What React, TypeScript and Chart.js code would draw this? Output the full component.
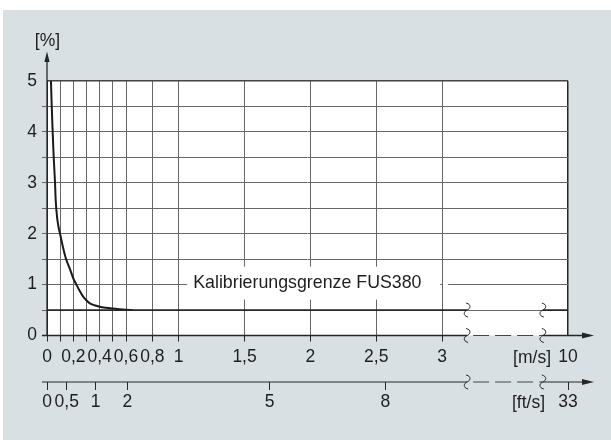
import React, { useEffect, useRef } from "react";
import { Chart, registerables } from "chart.js";

Chart.register(...registerables);

// ---- data ----
const curveSpeed = [0.03, 0.036, 0.043, 0.051, 0.061, 0.066, 0.08, 0.099, 0.12, 0.145, 0.175, 0.2, 0.225, 0.25, 0.276, 0.3, 0.326, 0.36, 0.4, 0.45, 0.5, 0.55, 0.6, 0.65];
const curveError = [5, 4.5, 4, 3.5, 3, 2.66, 2.25, 2, 1.75, 1.5, 1.3, 1.12, 0.99, 0.87, 0.76, 0.69, 0.63, 0.595, 0.566, 0.545, 0.53, 0.515, 0.505, 0.5];
const limitError = 0.5;
const limitLabel = "Kalibrierungsgrenze FUS380";

const msTickValues = [0, 0.1, 0.2, 0.3, 0.4, 0.5, 0.6, 0.8, 1, 1.5, 2, 2.5, 3, 10];
const msTickLabels = ["0", "", "0,2", "", "0,4", "", "0,6", "0,8", "1", "1,5", "2", "2,5", "3", "10"];
const ftTickAtMs = [0, 0.15, 0.37, 0.61, 1.69, 2.57, 10];
const ftTickLabels = ["0", "0,5", "1", "2", "5", "8", "33"];
const yMax = 5;
const yStep = 0.5;
const yUnit = "[%]";
const msUnit = "[m/s]";
const ftUnit = "[ft/s]";

// axis break (scale units): linear 0..3 m/s, then a break, end of axis = 10 m/s
const BREAK_FROM = 3.19;
const BREAK_TO = 3.765;
const AXIS_END_POS = 3.956;
const AXIS_END_VALUE = 10;
const toPos = (v: number) => (v >= AXIS_END_VALUE ? AXIS_END_POS : v);

const FONT = "'Liberation Sans', Arial, Helvetica, sans-serif";
const FS = 17.5;
const TEXT = "#1e1e1e";
const GRID = "#666";
const DARK = "#262626";
const BG = "#d9e0e3";
const CLEAR = "rgba(0,0,0,0)";

function squiggle(ctx: CanvasRenderingContext2D, x: number, y: number) {
  ctx.save();
  ctx.strokeStyle = DARK;
  ctx.lineWidth = 1;
  ctx.beginPath();
  ctx.moveTo(x - 1, y - 7);
  ctx.bezierCurveTo(x + 5, y - 5.5, x + 3, y - 1, x, y);
  ctx.bezierCurveTo(x - 3, y + 1, x - 5, y + 5.5, x + 1, y + 7);
  ctx.stroke();
  ctx.restore();
}

function brokenLine(ctx: CanvasRenderingContext2D, x0: number, xa: number, xb: number, x1: number, y: number, width: number) {
  ctx.save();
  ctx.strokeStyle = DARK;
  ctx.lineWidth = width;
  ctx.beginPath();
  ctx.moveTo(x0, y);
  ctx.lineTo(xa, y);
  ctx.moveTo(xb, y);
  ctx.lineTo(x1, y);
  ctx.stroke();
  ctx.lineWidth = 1.2;
  ctx.strokeStyle = "#444";
  ctx.setLineDash([16, 6]);
  ctx.lineDashOffset = -6;
  ctx.beginPath();
  ctx.moveTo(xa, y);
  ctx.lineTo(xb, y);
  ctx.stroke();
  ctx.restore();
}

function arrowRight(ctx: CanvasRenderingContext2D, x: number, y: number) {
  ctx.save();
  ctx.fillStyle = DARK;
  ctx.beginPath();
  ctx.moveTo(x, y);
  ctx.lineTo(x - 12, y - 3);
  ctx.lineTo(x - 12, y + 3);
  ctx.closePath();
  ctx.fill();
  ctx.restore();
}

const decor = {
  id: "decor",
  beforeDraw(chart: any) {
    const { ctx, chartArea: a, width, height } = chart;
    ctx.save();
    ctx.fillStyle = "#fff";
    ctx.fillRect(0, 0, width, height);
    ctx.fillStyle = BG;
    ctx.fillRect(3, 10, width - 3, height - 10);
    ctx.fillStyle = "#fff";
    ctx.fillRect(a.left, a.top, a.right - a.left, a.bottom - a.top);
    ctx.restore();
  },
  afterDraw(chart: any) {
    const { ctx } = chart;
    const xs = chart.scales.x;
    const x2 = chart.scales.x2;
    const ys = chart.scales.y;
    const pa = xs.getPixelForValue(BREAK_FROM);
    const pb = xs.getPixelForValue(BREAK_TO);
    const x0 = xs.getPixelForValue(0);
    const xEnd = xs.getPixelForValue(AXIS_END_POS);
    const y0 = ys.getPixelForValue(0);
    const yl = ys.getPixelForValue(limitError);
    const yOne = ys.getPixelForValue(1);

    ctx.save();
    // label box over the grid
    ctx.font = `${FS + 0.3}px ${FONT}`;
    const tx = xs.getPixelForValue(1.11);
    ctx.fillStyle = "#fff";
    ctx.fillRect(tx - 6, yOne - 18, xs.getPixelForValue(3) - 2 - (tx - 6), 33);
    ctx.fillRect(xs.getPixelForValue(3) + 1, yOne - 2, 5, 4);
    ctx.fillStyle = TEXT;
    ctx.textAlign = "left";
    ctx.textBaseline = "alphabetic";
    ctx.fillText(limitLabel, tx, yOne + 3.5);

    // y axis with arrow
    ctx.strokeStyle = DARK;
    ctx.lineWidth = 1.3;
    ctx.beginPath();
    ctx.moveTo(x0, 58);
    ctx.lineTo(x0, y0);
    ctx.stroke();
    ctx.fillStyle = DARK;
    ctx.beginPath();
    ctx.moveTo(x0, 51.5);
    ctx.lineTo(x0 - 2.6, 62);
    ctx.lineTo(x0 + 2.6, 62);
    ctx.closePath();
    ctx.fill();

    // x axis (m/s) with break and arrow
    brokenLine(ctx, x0 - 5, pa, pb, 590, y0, 1.3);
    arrowRight(ctx, 594, y0);
    // ft/s axis
    const yf = x2.top;
    brokenLine(ctx, x0 - 5, pa, pb, 590, yf, 1.1);
    arrowRight(ctx, 594, yf);

    // squiggles
    [yl, y0, yf].forEach((yy) => {
      squiggle(ctx, pa, yy);
      squiggle(ctx, pb, yy);
    });

    // units
    ctx.fillStyle = TEXT;
    ctx.font = `${FS}px ${FONT}`;
    ctx.textAlign = "center";
    ctx.fillText(yUnit, x0 + 0.5, 46);
    ctx.textAlign = "right";
    ctx.fillText(msUnit, xEnd - 17, y0 + 27);
    ctx.fillText(ftUnit, xEnd - 23, yf + 26);
    ctx.restore();
  },
};

export default function App() {
  const ref = useRef<HTMLCanvasElement | null>(null);
  useEffect(() => {
    if (!ref.current) return;
    const curve = curveSpeed.map((s, i) => ({ x: toPos(s), y: curveError[i] }));
    const limit = [0, BREAK_FROM, BREAK_TO, AXIS_END_POS].map((x) => ({ x, y: limitError }));
    const chart = new Chart(ref.current, {
      type: "line",
      data: {
        datasets: [
          {
            data: limit,
            borderColor: DARK,
            borderWidth: 1.8,
            pointRadius: 0,
            segment: {
              borderColor: (c: any) => (c.p0DataIndex === 1 ? CLEAR : undefined),
            },
          } as any,
          {
            data: curve,
            borderColor: "#1a1a1a",
            borderWidth: 2,
            pointRadius: 0,
            cubicInterpolationMode: "monotone",
          },
        ],
      },
      options: {
        animation: false,
        responsive: true,
        maintainAspectRatio: false,
        layout: { padding: { top: 81, right: 43, bottom: 28, left: 0 } },
        plugins: { legend: { display: false }, tooltip: { enabled: false } },
        scales: {
          x: {
            type: "linear",
            position: "bottom",
            weight: 0,
            min: 0,
            max: AXIS_END_POS,
            afterBuildTicks: (s: any) => {
              s.ticks = msTickValues.map((v) => ({ value: toPos(v) }));
            },
            afterFit: (s: any) => {
              s.height = 46.5;
            },
            border: { display: false },
            grid: {
              color: (c: any) => (c.tick && (c.tick.value === AXIS_END_POS || c.tick.value === 0) ? DARK : GRID),
              tickColor: (c: any) => (c.tick && c.tick.value === AXIS_END_POS ? CLEAR : DARK),
              lineWidth: (c: any) => (c.tick && c.tick.value === AXIS_END_POS ? 1.5 : 1),
              tickLength: 6,
            },
            ticks: {
              autoSkip: false,
              maxRotation: 0,
              padding: 5,
              color: TEXT,
              font: { family: FONT, size: FS },
              callback: (_v: any, i: number) => msTickLabels[i],
            },
          },
          x2: {
            type: "linear",
            position: "bottom",
            weight: 1,
            min: 0,
            max: AXIS_END_POS,
            afterBuildTicks: (s: any) => {
              s.ticks = ftTickAtMs.map((v) => ({ value: toPos(v) }));
            },
            afterFit: (s: any) => {
              s.height = 30;
            },
            border: { display: false },
            grid: { drawOnChartArea: false, tickLength: 8, color: DARK, tickColor: DARK },
            ticks: {
              autoSkip: false,
              maxRotation: 0,
              padding: 2,
              color: TEXT,
              font: { family: FONT, size: FS },
              callback: (_v: any, i: number) => ftTickLabels[i],
            },
          },
          y: {
            type: "linear",
            min: 0,
            max: yMax,
            afterFit: (s: any) => {
              s.width = 47;
            },
            border: { display: false },
            grid: {
              color: (c: any) => (c.tick && c.tick.value === 0 ? CLEAR : c.tick && c.tick.value === yMax ? "#444" : GRID),
              tickColor: (c: any) => (c.tick && (c.tick.value === yMax || c.tick.value === 0) ? CLEAR : GRID),
              lineWidth: (c: any) => (c.tick && c.tick.value === yMax ? 1.5 : 1),
              tickLength: 5,
            },
            ticks: {
              stepSize: yStep,
              padding: 5,
              color: TEXT,
              font: { family: FONT, size: FS },
              callback: (v: any) => (Number.isInteger(v) ? String(v) : ""),
            },
          },
        },
      } as any,
      plugins: [decor],
    });
    return () => chart.destroy();
  }, []);
  return (
    <div style={{ position: "absolute", left: 0, top: 0, width: 611, height: 440 }}>
      <canvas ref={ref} />
    </div>
  );
}
